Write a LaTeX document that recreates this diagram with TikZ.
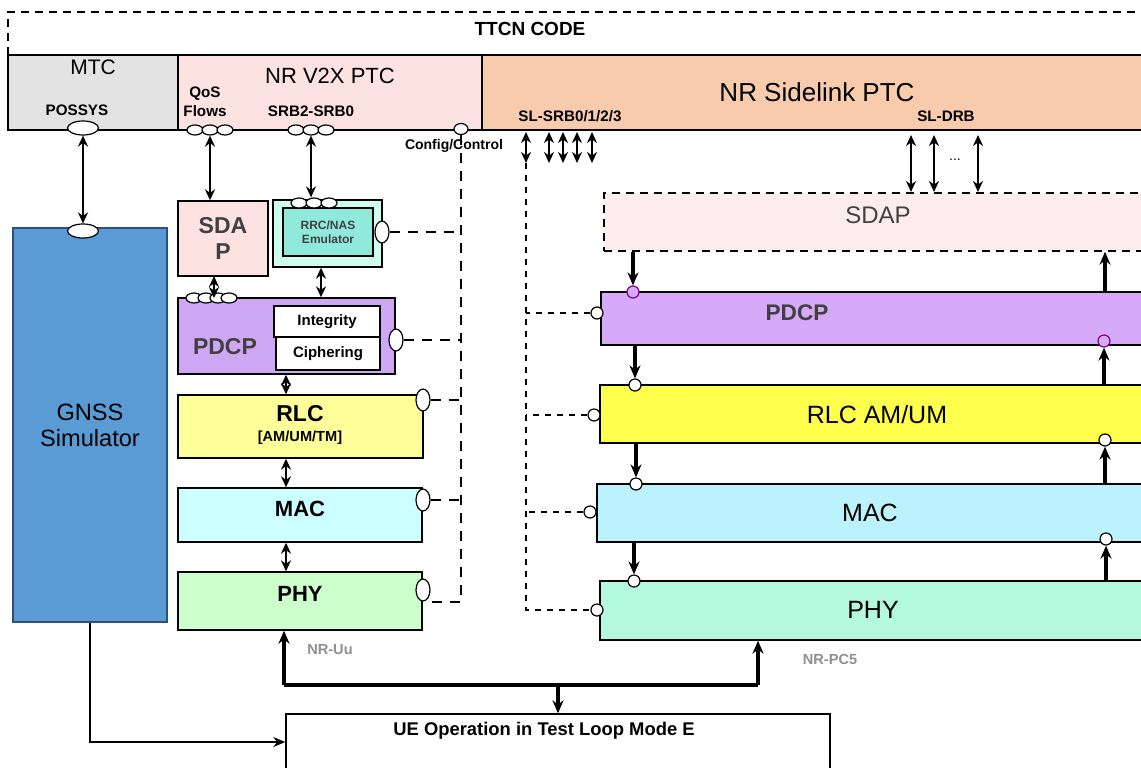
\documentclass[tikz,border=0pt]{standalone}
\usepackage{fontspec}
\setmainfont{Liberation Sans}
\usetikzlibrary{arrows.meta, positioning, fit, shapes.geometric}

\definecolor{mtcgray}{HTML}{E3E3E3}
\definecolor{v2xpink}{HTML}{FDE2E2}
\definecolor{slorange}{HTML}{F8CBAD}
\definecolor{gnssblue}{HTML}{5B9BD5}
\definecolor{gnssedge}{HTML}{2F4F7F}
\definecolor{rrcmint}{HTML}{CCFFEE}
\definecolor{rrcteal}{HTML}{90EADC}
\definecolor{pdcpl}{HTML}{CFA8F5}
\definecolor{pdcpr}{HTML}{D6AAF9}
\definecolor{rlcl}{HTML}{FFFF99}
\definecolor{rlcr}{HTML}{FFFF4D}
\definecolor{macl}{HTML}{CCFFFF}
\definecolor{macr}{HTML}{BBF2FD}
\definecolor{phyl}{HTML}{CCFFCC}
\definecolor{phyr}{HTML}{B3F9DF}
\definecolor{sdapr}{HTML}{FDECEC}
\definecolor{txtgray}{HTML}{404040}
\definecolor{ifgray}{HTML}{909090}

\begin{document}
\begin{tikzpicture}[x=0.5pt, y=-0.5pt,
  area/.style={draw, inner sep=0pt, line width=0.7pt},
  port/.style={ellipse, draw, fill=white, inner sep=0pt, minimum width=8pt, minimum height=5pt, line width=0.6pt},
  vport/.style={port, minimum width=7pt, minimum height=11pt},
  bigport/.style={port, minimum width=15.5pt, minimum height=7pt},
  dot/.style={circle, draw, fill=white, inner sep=0pt, minimum size=6pt, line width=0.6pt},
  dbl/.style={{Stealth[length=5.5pt,width=5pt]}-{Stealth[length=5.5pt,width=5pt]}, line width=1.2pt},
  flow/.style={-{Stealth[length=6.5pt,width=5.5pt]}, line width=1.7pt},
  ctrl/.style={dash pattern=on 5pt off 4pt, line width=1pt},
  slctrl/.style={dash pattern=on 3pt off 3pt, line width=0.6pt},
  lbl/.style={font=\bfseries\fontsize{7.6}{9.5}\selectfont},
  ttl/.style={font=\fontsize{11}{13}\selectfont},
  hdr/.style={font=\bfseries\fontsize{11.5}{13}\selectfont, text=txtgray},
  lyr/.style={font=\fontsize{12.5}{14}\selectfont}]
  \clip (0,0) rectangle (1141,767);
  \fill[white] (0,0) rectangle (1141,767);

  % TTCN frame
  \draw[dash pattern=on 4pt off 3pt, line width=0.6pt] (8,55) -- (8,12) -- (1150,12);
  \node[font=\bfseries\fontsize{9.5}{11}\selectfont] (ttcn) at (530,29) {TTCN CODE};

  % MTC
  \node[area, fill=mtcgray, fit={(8,55) (178,130)}] (mtc) {};
  \node[ttl, font=\fontsize{10.5}{12}\selectfont] at (93,67) {MTC};
  \node[lbl] at (77,110) {POSSYS};
  \node[bigport] (possys) at (83,128) {};

  % NR V2X PTC
  \node[area, fill=v2xpink, fit={(178,55) (482,130)}] (v2x) {};
  \node[ttl] at (330,76) {NR V2X PTC};
  \node[lbl, align=center] at (205,102) {QoS\\Flows};
  \node[lbl] at (311,111) {SRB2-SRB0};

  % NR Sidelink PTC
  \node[area, fill=slorange, fit={(482,55) (1150,130)}] (sl) {};
  \node[font=\fontsize{13}{15}\selectfont] at (817,92) {NR Sidelink PTC};
  \node[lbl] at (570,116) {SL-SRB0/1/2/3};
  \node[lbl] at (946,116) {SL-DRB};

  % ports on the PTC edge
  \foreach \i/\x in {1/195,2/210,3/225}
    \node[port] (qos\i) at (\x,130) {};
  \foreach \i/\x in {1/296,2/311,3/326}
    \node[port] (srb\i) at (\x,130) {};
  \node[port, minimum width=7pt, minimum height=5.5pt] (cfg) at (461,129) {};
  \node[font=\bfseries\fontsize{7}{8}\selectfont] at (454,146) {Config/Control};

  % GNSS simulator
  \node[area, fill=gnssblue, draw=gnssedge, fit={(13,228) (167,622)}] (gnss) {};
  \node[font=\fontsize{11.8}{13}\selectfont, align=center] at (90,425) {GNSS\\Simulator};
  \node[bigport] (gnssport) at (83,231) {};
  \draw[dbl] (possys) -- (gnssport);

  % left stack (NR V2X)
  \node[area, fill=v2xpink, fit={(178,201) (268,276)}] (sdapL) {};
  \node[hdr, align=center] at (223,238) {SDA\\P};
  \node[area, fill=rrcmint, fit={(273,200) (382,267)}] (rrc) {};
  \node[area, fill=rrcteal, fit={(283,208) (373,256)}] (rrcin) {};
  \node[font=\bfseries\fontsize{6}{7}\selectfont, text=txtgray, align=center] at (rrcin) {RRC/NAS\\Emulator};
  \foreach \i/\x in {1/299,2/314,3/329}
    \node[port] (rrcp\i) at (\x,203) {};
  \node[vport] (rrcport) at (382,232) {};

  \node[area, fill=pdcpl, fit={(178,298) (395,374)}] (pdcpL) {};
  \node[hdr] at (225,347) {PDCP};
  \node[area, fill=white, fit={(274,306) (380,337)}] (integ) {};
  \node[area, fill=white, fit={(276,337) (380,370)}] (ciph) {};
  \node[font=\bfseries\fontsize{7.5}{9}\selectfont] at (integ) {Integrity};
  \node[font=\bfseries\fontsize{7.5}{9}\selectfont] at (ciph) {Ciphering};
  \foreach \i/\x in {1/194,2/206,3/218,4/229}
    \node[port] (pdcpp\i) at (\x,298) {};
  \node[vport] (pdcpport) at (396,340) {};

  \node[area, fill=rlcl, fit={(178,395) (423,458)}] (rlcL) {};
  \node[font=\bfseries\fontsize{11.5}{13}\selectfont] at (300,414) {RLC};
  \node[font=\bfseries\fontsize{7.3}{8}\selectfont] at (300,438) {[AM/UM/TM]};
  \node[vport] (rlcport) at (423,400) {};

  \node[area, fill=macl, fit={(178,488) (422,542)}] (macL) {};
  \node[font=\bfseries\fontsize{11}{13}\selectfont] at (300,509) {MAC};
  \node[vport] (macport) at (423,500) {};

  \node[area, fill=phyl, fit={(178,572) (422,630)}] (phyL) {};
  \node[font=\bfseries\fontsize{11}{13}\selectfont] at (300,594) {PHY};
  \node[vport] (phyport) at (423,590) {};

  % left stack arrows
  \draw[dbl] (qos2.south) -- (sdapL.north -| qos2);
  \draw[dbl] (srb2.south) -- (rrcp2.north -| srb2);
  \draw[dbl] (214,276) -- (214,298);
  \draw[dbl] (rrc.south -| 321,0) -- (pdcpL.north -| 321,0);
  \draw[dbl] (pdcpL.south -| 286,0) -- (rlcL.north -| 286,0);
  \draw[dbl] (rlcL.south -| 286,0) -- (macL.north -| 286,0);
  \draw[dbl] (macL.south -| 286,0) -- (phyL.north -| 286,0);

  % config/control bus
  \coordinate (cbus) at (461,602);
  \draw[ctrl] (cfg.south) -- (cbus) -- (cbus -| phyport.east);
  \foreach \p in {rrcport, pdcpport, rlcport, macport}
    \draw[ctrl] (\p.east) -- (\p.east -| cbus);

  % sidelink radio bearers
  \draw[dbl] (526,132) -- (526,163);
  \foreach \x in {549,563,577,592}
    \draw[dbl] (\x,132) -- (\x,163);
  \foreach \x in {911,934,978}
    \draw[dbl] (\x,135) -- (\x,192);
  \node[font=\fontsize{7}{8}\selectfont] at (955,160) {...};

  % right stack (NR Sidelink)
  \node[area, fill=sdapr, dash pattern=on 4pt off 3pt, fit={(604,193) (1150,251)}] (sdapR) {};
  \node[font=\fontsize{12}{13}\selectfont, text=txtgray] at (878,215) {SDAP};
  \node[area, fill=pdcpr, fit={(601,292) (1150,345)}] (pdcpR) {};
  \node[font=\bfseries\fontsize{11.3}{13}\selectfont, text=txtgray] at (797,313) {PDCP};
  \node[area, fill=rlcr, fit={(600,385) (1150,443)}] (rlcR) {};
  \node[lyr] at (877,415) {RLC AM/UM};
  \node[area, fill=macr, fit={(597,484) (1150,542)}] (macR) {};
  \node[lyr] at (870,513) {MAC};
  \node[area, fill=phyr, fit={(600,581) (1150,640)}] (phyR) {};
  \node[lyr] at (873,610) {PHY};

  % sidelink ports
  \node[dot, draw=violet, fill=pdcpr] (pdcpin) at (633,292) {};
  \node[dot] (rlcin) at (635,385) {};
  \node[dot] (macin) at (636,484) {};
  \node[dot] (phyin) at (634,581) {};
  \node[dot, draw=violet, fill=pdcpr] (pdcpout) at (1104,341) {};
  \node[dot] (rlcout) at (1105,440) {};
  \node[dot] (macout) at (1106,539) {};

  \draw[flow] (sdapR.south -| pdcpin) -- (pdcpin.north);
  \draw[flow] (pdcpR.south -| rlcin) -- (rlcin.north);
  \draw[flow] (rlcR.south -| macin) -- (macin.north);
  \draw[flow] (macR.south -| phyin) -- (phyin.north);
  \draw[flow] (pdcpR.north -| 1105,0) -- (sdapR.south -| 1105,0);
  \draw[flow] (rlcR.north -| pdcpout) -- (pdcpout.south);
  \draw[flow] (macR.north -| rlcout) -- (rlcout.south);
  \draw[flow] (phyR.north -| macout) -- (macout.south);

  % sidelink config/control
  \node[dot] (slpdcp) at (597,313) {};
  \node[dot] (slrlc) at (594,415) {};
  \node[dot] (slmac) at (590,512) {};
  \node[dot] (slphy) at (597,610) {};
  \coordinate (slbus) at (526,610);
  \draw[slctrl] (526,163) -- (slbus) -- (slphy.west);
  \foreach \p in {slpdcp, slrlc, slmac}
    \draw[slctrl] (\p.west) -- (\p.west -| slbus);

  % test loop
  \node[area, fill=white, fit={(286,714) (830,790)}] (ue) {};
  \node[font=\bfseries\fontsize{9.2}{10}\selectfont] at (544,731) {UE Operation in Test Loop Mode E};
  \node[font=\bfseries\fontsize{7.3}{8}\selectfont, text=ifgray] at (330,650) {NR-Uu};
  \node[font=\bfseries\fontsize{7.3}{8}\selectfont, text=ifgray] at (830,659) {NR-PC5};
  \coordinate (loopL) at (284,685);
  \coordinate (loopR) at (758,685);
  \draw[line width=1.7pt] (loopL) -- (loopR);
  \draw[flow] (loopL) -- (phyL.south -| loopL);
  \draw[flow] (loopR) -- (phyR.south -| loopR);
  \draw[flow] (558,685) -- (ue.north -| 558,0);
  \draw[-{Stealth[length=6pt,width=5pt]}, line width=0.7pt] (gnss.south -| 90,0) |- (ue.west |- 0,742);
\end{tikzpicture}
\end{document}
